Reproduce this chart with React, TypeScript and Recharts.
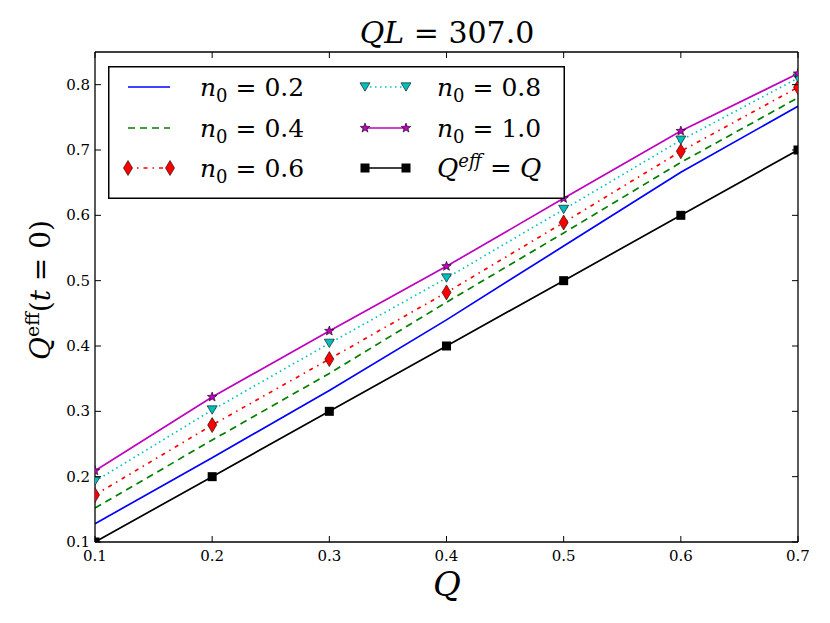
import { Legend, Line, LineChart, XAxis, YAxis } from "recharts";

// Q values along the x axis
const qValues = [0.1, 0.2, 0.3, 0.4, 0.5, 0.6, 0.7];

// Q_eff(t=0) for each n0
const n02 = [0.128, 0.229, 0.332, 0.44, 0.553, 0.666, 0.767];
const n04 = [0.152, 0.256, 0.358, 0.467, 0.573, 0.681, 0.78];
const n06 = [0.172, 0.279, 0.38, 0.482, 0.589, 0.698, 0.796];
const n08 = [0.193, 0.302, 0.404, 0.504, 0.609, 0.715, 0.81];
const n10 = [0.209, 0.322, 0.423, 0.522, 0.626, 0.729, 0.817];
const identity = [0.1, 0.2, 0.3, 0.4, 0.5, 0.6, 0.7];

const xTicks = [0.1, 0.2, 0.3, 0.4, 0.5, 0.6, 0.7];
const xTickLabels = ["0.1", "0.2", "0.3", "0.4", "0.5", "0.6", "0.7"];
const yTicks = [0.1, 0.2, 0.3, 0.4, 0.5, 0.6, 0.7, 0.8];
const yTickLabels = ["0.1", "0.2", "0.3", "0.4", "0.5", "0.6", "0.7", "0.8"];

const data = qValues.map((q, i) => ({
  q,
  n02: n02[i],
  n04: n04[i],
  n06: n06[i],
  n08: n08[i],
  n10: n10[i],
  ident: identity[i],
}));

const FONT = "'DejaVu Serif', serif";
const BLUE = "#0000ff";
const GREEN = "#008000";
const RED = "#ff0000";
const CYAN = "#00bfbf";
const MAGENTA = "#bf00bf";
const LW = 1.7;

function diamondPath(cx: number, cy: number) {
  return `M${cx},${cy - 7.5} L${cx + 4.5},${cy} L${cx},${cy + 7.5} L${cx - 4.5},${cy} Z`;
}
function triPath(cx: number, cy: number) {
  return `M${cx - 5},${cy - 4.2} L${cx + 5},${cy - 4.2} L${cx},${cy + 4.2} Z`;
}
function starPath(cx: number, cy: number) {
  const pts: string[] = [];
  for (let k = 0; k < 10; k++) {
    const r = k % 2 === 0 ? 5 : 2.1;
    const a = -Math.PI / 2 + (k * Math.PI) / 5;
    pts.push(`${(cx + r * Math.cos(a)).toFixed(2)},${(cy + r * Math.sin(a)).toFixed(2)}`);
  }
  return `M${pts.join(" L")} Z`;
}

const Diamond = (p: any) =>
  p.cx == null ? null : (
    <path key={p.index} d={diamondPath(p.cx, p.cy)} fill={RED} stroke="#000" strokeWidth={0.6} />
  );
const Tri = (p: any) =>
  p.cx == null ? null : (
    <path key={p.index} d={triPath(p.cx, p.cy)} fill={CYAN} stroke="#000" strokeWidth={0.6} />
  );
const Star = (p: any) =>
  p.cx == null ? null : (
    <path key={p.index} d={starPath(p.cx, p.cy)} fill={MAGENTA} stroke="#000" strokeWidth={0.6} />
  );
const Square = (p: any) =>
  p.cx == null ? null : (
    <rect key={p.index} x={p.cx - 4.5} y={p.cy - 4.5} width={9} height={9} fill="#000" />
  );

const XTick = (p: any) => {
  const i = xTicks.indexOf(p.payload.value);
  return (
    <g>
      <line x1={p.x} y1={p.y} x2={p.x} y2={p.y - 6} stroke="#000" strokeWidth={1} />
      <text x={p.x} y={p.y + 19} textAnchor="middle" fontFamily={FONT} fontSize={15} fill="#000">
        {xTickLabels[i]}
      </text>
    </g>
  );
};
const XTopTick = (p: any) => (
  <line x1={p.x} y1={p.y} x2={p.x} y2={p.y + 6} stroke="#000" strokeWidth={1} />
);
const YTick = (p: any) => {
  const i = yTicks.indexOf(p.payload.value);
  return (
    <g>
      <line x1={p.x} y1={p.y} x2={p.x + 6} y2={p.y} stroke="#000" strokeWidth={1} />
      <text x={p.x - 5} y={p.y + 5} textAnchor="end" fontFamily={FONT} fontSize={15} fill="#000">
        {yTickLabels[i]}
      </text>
    </g>
  );
};
const YRightTick = (p: any) => (
  <line x1={p.x} y1={p.y} x2={p.x - 6} y2={p.y} stroke="#000" strokeWidth={1} />
);

const TitleLabel = () => (
  <text x={447} y={43} textAnchor="middle" fontFamily={FONT} fontSize={30} fill="#000">
    <tspan fontStyle="italic">QL</tspan>
    <tspan> = 307.0</tspan>
  </text>
);
const XLabel = () => (
  <text x={447} y={596} textAnchor="middle" fontFamily={FONT} fontSize={34} fontStyle="italic" fill="#000">
    Q
  </text>
);
const YLabel = () => (
  <text
    x={0}
    y={0}
    transform="translate(50,290) rotate(-90)"
    textAnchor="middle"
    fontFamily={FONT}
    fontSize={28}
    fill="#000"
  >
    <tspan fontStyle="italic">Q</tspan>
    <tspan dy={-11} fontSize={19}>eff</tspan>
    <tspan dy={11}>(</tspan>
    <tspan fontStyle="italic">t</tspan>
    <tspan> = 0)</tspan>
  </text>
);

type Entry = {
  label: string;
  color: string;
  dash?: string;
  marker?: (cx: number, cy: number) => any;
};

const legendEntries: Entry[] = [
  { label: "0.2", color: BLUE },
  { label: "0.4", color: GREEN, dash: "7 5" },
  {
    label: "0.6",
    color: RED,
    dash: "4 5 1.5 5",
    marker: (cx, cy) => <path d={diamondPath(cx, cy)} fill={RED} stroke="#000" strokeWidth={0.6} />,
  },
  {
    label: "0.8",
    color: CYAN,
    dash: "1.5 3.5",
    marker: (cx, cy) => <path d={triPath(cx, cy)} fill={CYAN} stroke="#000" strokeWidth={0.6} />,
  },
  {
    label: "1.0",
    color: MAGENTA,
    marker: (cx, cy) => <path d={starPath(cx, cy)} fill={MAGENTA} stroke="#000" strokeWidth={0.6} />,
  },
  {
    label: "ident",
    color: "#000",
    marker: (cx, cy) => <rect x={cx - 4.5} y={cy - 4.5} width={9} height={9} fill="#000" />,
  },
];

const LegendBox = () => {
  const rows = [21, 62, 102];
  return (
    <svg width={457} height={133} style={{ display: "block" }}>
      <rect x={0.75} y={0.75} width={455.5} height={131.5} fill="#fff" stroke="#000" strokeWidth={1.5} />
      {legendEntries.map((e, i) => {
        const col = Math.floor(i / 3);
        const cy = rows[i % 3];
        const x1 = col === 0 ? 20 : 257;
        const x2 = col === 0 ? 62 : 298;
        const tx = col === 0 ? 92 : 329;
        return (
          <g key={i}>
            <line x1={x1} y1={cy} x2={x2} y2={cy} stroke={e.color} strokeWidth={LW} strokeDasharray={e.dash} />
            {e.marker && e.marker(x1, cy)}
            {e.marker && e.marker(x2, cy)}
            {e.label === "ident" ? (
              <text x={tx} y={cy + 9} fontFamily={FONT} fontSize={26} fill="#000">
                <tspan fontStyle="italic">Q</tspan>
                <tspan dy={-10} fontSize={18} fontStyle="italic">eff</tspan>
                <tspan dy={10}> = </tspan>
                <tspan fontStyle="italic">Q</tspan>
              </text>
            ) : (
              <text x={tx} y={cy + 9} fontFamily={FONT} fontSize={25} fill="#000">
                <tspan fontStyle="italic">n</tspan>
                <tspan dy={6} fontSize={18}>0</tspan>
                <tspan dy={-6}> = {e.label}</tspan>
              </text>
            )}
          </g>
        );
      })}
    </svg>
  );
};

export default function App() {
  return (
    <div style={{ position: "absolute", left: 0, top: 0, width: 830, height: 623, background: "#fff" }}>
      <LineChart width={830} height={623} data={data} margin={{ top: 51, right: 31, bottom: 80, left: 94 }}>
        <XAxis
          dataKey="q"
          type="number"
          domain={[0.1, 0.7]}
          ticks={xTicks}
          interval={0}
          allowDataOverflow
          height={1}
          tickSize={0}
          tickMargin={0}
          tick={XTick}
          axisLine={{ stroke: "#000", strokeWidth: 1.3 }}
          label={{ content: XLabel }}
        />
        <XAxis
          xAxisId="top"
          orientation="top"
          dataKey="q"
          type="number"
          domain={[0.1, 0.7]}
          ticks={xTicks}
          interval={0}
          allowDataOverflow
          height={1}
          tickSize={0}
          tickMargin={0}
          tick={XTopTick}
          axisLine={{ stroke: "#000", strokeWidth: 1.3 }}
          label={{ content: TitleLabel }}
        />
        <YAxis
          type="number"
          domain={[0.1, 0.85]}
          ticks={yTicks}
          interval={0}
          allowDataOverflow
          width={1}
          tickSize={0}
          tickMargin={0}
          tick={YTick}
          axisLine={{ stroke: "#000", strokeWidth: 1.3 }}
          label={{ content: YLabel }}
        />
        <YAxis
          yAxisId="right"
          orientation="right"
          type="number"
          domain={[0.1, 0.85]}
          ticks={yTicks}
          interval={0}
          allowDataOverflow
          width={1}
          tickSize={0}
          tickMargin={0}
          tick={YRightTick}
          axisLine={{ stroke: "#000", strokeWidth: 1.3 }}
        />
        <Line dataKey="ident" stroke="#000" strokeWidth={LW} dot={Square} activeDot={false} isAnimationActive={false} />
        <Line dataKey="n02" stroke={BLUE} strokeWidth={LW} dot={false} activeDot={false} isAnimationActive={false} />
        <Line dataKey="n04" stroke={GREEN} strokeWidth={LW} strokeDasharray="7 5" dot={false} activeDot={false} isAnimationActive={false} />
        <Line dataKey="n06" stroke={RED} strokeWidth={LW} strokeDasharray="4 5 1.5 5" dot={Diamond} activeDot={false} isAnimationActive={false} />
        <Line dataKey="n08" stroke={CYAN} strokeWidth={LW} strokeDasharray="1.5 3.5" dot={Tri} activeDot={false} isAnimationActive={false} />
        <Line dataKey="n10" stroke={MAGENTA} strokeWidth={LW} dot={Star} activeDot={false} isAnimationActive={false} />
        <Legend
          layout="vertical"
          align="center"
          verticalAlign="middle"
          content={LegendBox}
          wrapperStyle={{ position: "absolute", left: 108, top: 66, width: 457, height: 133 }}
        />
      </LineChart>
    </div>
  );
}
